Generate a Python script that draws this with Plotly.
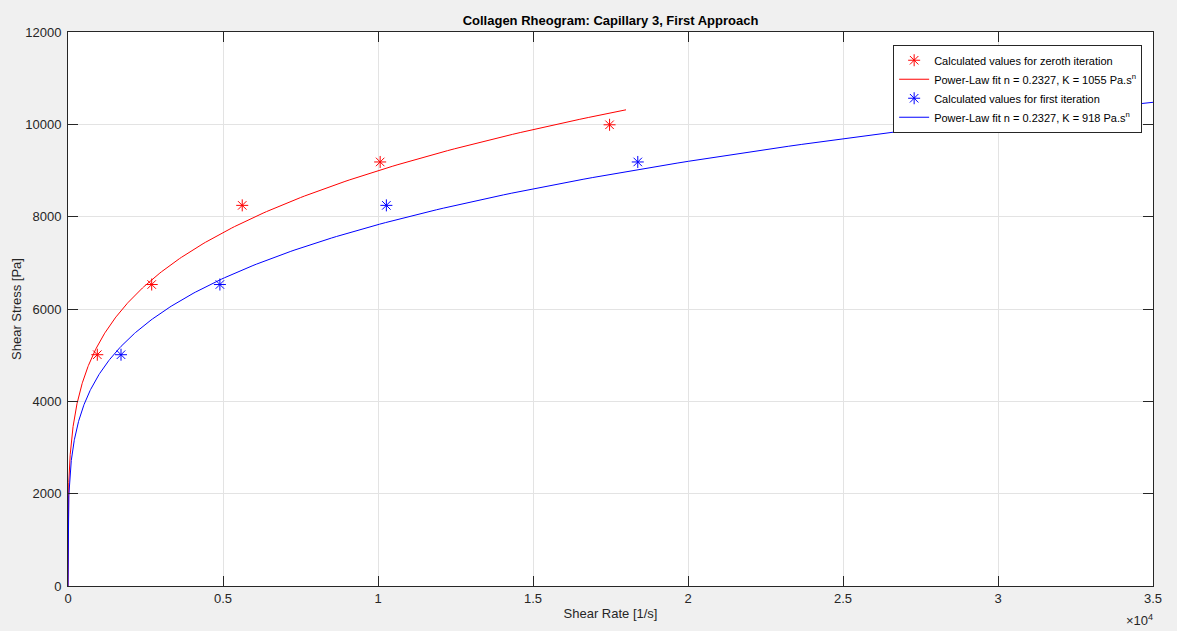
import numpy as np
import plotly.graph_objects as go

# Measured shear stress values and the corresponding shear rates
stress_pa = [5010, 6530, 8245, 9185, 9990]
rate_zeroth = [945, 2700, 5620, 10070, 17470]
rate_first = [1710, 4900, 10270, 18380, 31900]

# Power-law fit parameters (tau = K * gamma^n)
n_zeroth, K_zeroth, rate_max_zeroth = 0.2327, 1055, 18000
n_first, K_first, rate_max_first = 0.2327, 918, 35000

x_ticks = [0, 5000, 10000, 15000, 20000, 25000, 30000, 35000]
x_tick_text = ["0", "0.5", "1", "1.5", "2", "2.5", "3", "3.5"]
y_ticks = [0, 2000, 4000, 6000, 8000, 10000, 12000]


def fit_curve(K, n, rate_max):
    g = np.concatenate([[0.0], np.geomspace(0.5, rate_max, 600)])
    return g, K * g ** n


FONT = "Liberation Sans, Arial, sans-serif"
AX = "#262626"

fig = go.Figure()

g0, t0 = fit_curve(K_zeroth, n_zeroth, rate_max_zeroth)
g1, t1 = fit_curve(K_first, n_first, rate_max_first)

fig.add_trace(go.Scatter(
    x=rate_zeroth, y=stress_pa, mode="markers",
    name="Calculated values for zeroth iteration",
    marker=dict(symbol="asterisk-open", size=10, color="#ff0000",
                line=dict(color="#ff0000", width=1)),
))
fig.add_trace(go.Scatter(
    x=g0, y=t0, mode="lines",
    name=f"Power-Law fit n = {n_zeroth:.4f}, K = {K_zeroth} Pa.s<sup>n</sup>",
    line=dict(color="#ff0000", width=1),
))
fig.add_trace(go.Scatter(
    x=rate_first, y=stress_pa, mode="markers",
    name="Calculated values for first iteration",
    marker=dict(symbol="asterisk-open", size=10, color="#0000ff",
                line=dict(color="#0000ff", width=1)),
))
fig.add_trace(go.Scatter(
    x=g1, y=t1, mode="lines",
    name=f"Power-Law fit n = {n_first:.4f}, K = {K_first} Pa.s<sup>n</sup>",
    line=dict(color="#0000ff", width=1),
))

axis_common = dict(
    showline=True, linecolor=AX, linewidth=1, mirror="allticks",
    ticks="inside", ticklen=10, tickwidth=1, tickcolor=AX,
    showgrid=True, gridcolor="#e3e3e3", gridwidth=1, zeroline=False,
    tickfont=dict(family=FONT, size=13, color=AX),
)

fig.update_xaxes(
    range=[0, 35000], tickvals=x_ticks, ticktext=x_tick_text,
    title=dict(text="Shear Rate [1/s]", standoff=4,
               font=dict(family=FONT, size=13, color=AX)),
    **axis_common,
)
fig.update_yaxes(
    range=[0, 12000], tickvals=y_ticks, tickformat="d",
    ticklabelstandoff=3,
    title=dict(text="Shear Stress [Pa]", standoff=0,
               font=dict(family=FONT, size=13, color=AX)),
    **axis_common,
)

fig.add_annotation(
    text="\u00d710<sup>4</sup>", xref="paper", yref="paper",
    x=0.988, y=-0.062, xanchor="center", yanchor="middle", showarrow=False,
    font=dict(family=FONT, size=13, color=AX),
)

fig.update_layout(
    width=1177, height=631,
    margin=dict(l=68, r=24, t=32, b=43),
    paper_bgcolor="#f0f0f0", plot_bgcolor="#ffffff",
    title=dict(text="<b>Collagen Rheogram: Capillary 3, First Approach</b>",
               x=0.5, xref="paper", y=1 - 20 / 631, yanchor="middle",
               font=dict(family=FONT, size=13, color="#000000")),
    legend=dict(
        x=0.99, y=0.977, xanchor="right", yanchor="top",
        bgcolor="#ffffff", bordercolor=AX, borderwidth=1,
        font=dict(family=FONT, size=11, color="#000000"),
        tracegroupgap=0,
    ),
    showlegend=True,
)

fig.write_html("out.html")
